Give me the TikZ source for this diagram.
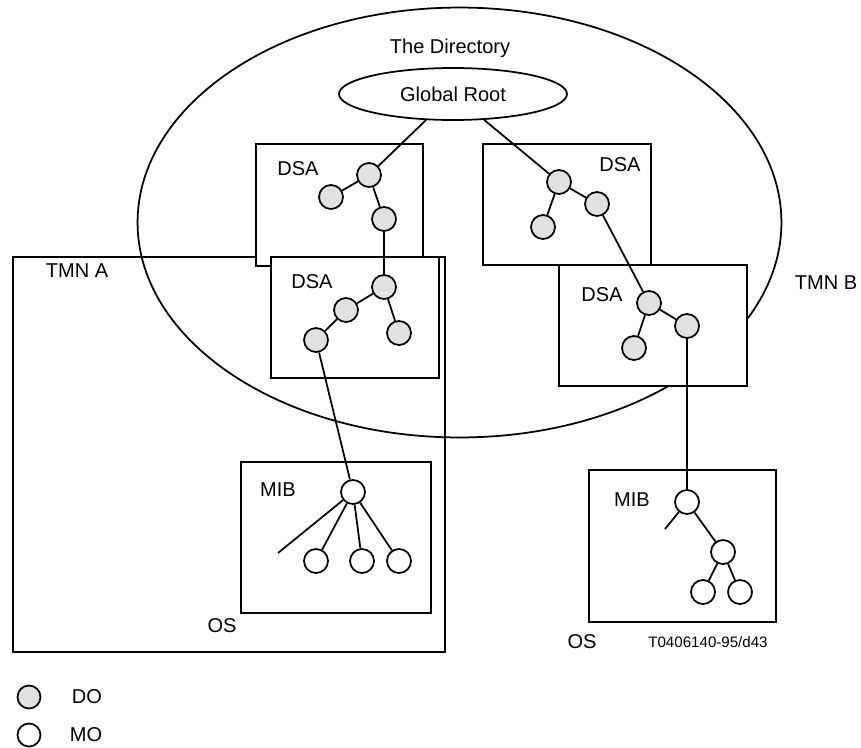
\documentclass[tikz,border=0pt]{standalone}
\usepackage{fontspec}
\setmainfont{Liberation Sans}
\usetikzlibrary{shapes.geometric, positioning}
\definecolor{dogray}{RGB}{225,225,225}

\begin{document}
\begin{tikzpicture}[x=0.02cm, y=-0.02cm, line width=1pt,
    font=\fontsize{11.4}{13}\selectfont,
    box/.style={draw, fill=white},
    dobj/.style={circle, draw, fill=dogray, minimum size=0.48cm, inner sep=0pt},
    mobj/.style={circle, draw, fill=white, minimum size=0.48cm, inner sep=0pt}]
    \useasboundingbox (0,0) rectangle (861,747);

    % the directory and the two TMNs
    \node[ellipse, draw, minimum width=12.88cm, minimum height=8.6cm] (dir) at (459.5,222.5) {};
    \node (dirlbl) at (450,48) {The Directory};
    \node[ellipse, draw, minimum width=4.56cm, minimum height=1.04cm, inner sep=0pt] (root) at (453,94) {Global Root};
    \draw (13,257) rectangle (445,652);
    \node (tmna) at (77,271) {TMN A};
    \node (tmnb) at (826,283) {TMN B};

    % DSA boxes
    \draw[box] (256,144) rectangle (423,266);
    \draw[box] (483,144) rectangle (651,265);
    \draw[box] (271,257) rectangle (439,378);
    \draw[box] (559,265) rectangle (747,386);
    \node (dsa1) at (298,169) {DSA};
    \node (dsa2) at (620,165) {DSA};
    \node (dsa3) at (312,282) {DSA};
    \node (dsa4) at (602,295) {DSA};

    % MIB boxes
    \draw[box] (241,462) rectangle (431,613);
    \draw[box] (589,470) rectangle (776,622);
    \node (mib1) at (278,490) {MIB};
    \node (mib2) at (632,500) {MIB};
    \node (os1) at (222,626) {OS};
    \node (os2) at (582,642) {OS};
    \node[font=\fontsize{8.6}{10}\selectfont] (ref) at (708,642) {T0406140-95/d43};

    % DOs in TMN A
    \node[dobj] (a1) at (369,175) {};
    \node[dobj] (a2) at (331,197) {};
    \node[dobj] (a3) at (384,219) {};
    \node[dobj] (a4) at (384,287) {};
    \node[dobj] (a5) at (346,310) {};
    \node[dobj] (a6) at (399,333) {};
    \node[dobj] (a7) at (316,340) {};
    % DOs in TMN B
    \node[dobj] (b1) at (559,182) {};
    \node[dobj] (b2) at (543,227) {};
    \node[dobj] (b3) at (597,204) {};
    \node[dobj] (b4) at (649,303) {};
    \node[dobj] (b5) at (634,348) {};
    \node[dobj] (b6) at (687,326) {};

    % MOs
    \node[mobj] (ma) at (353,492) {};
    \node[mobj] (ma1) at (316,561) {};
    \node[mobj] (ma2) at (362,561) {};
    \node[mobj] (ma3) at (399,561) {};
    \coordinate (mastub) at (278,553);
    \node[mobj] (mb) at (687,502) {};
    \node[mobj] (mb1) at (723,552) {};
    \node[mobj] (mb2) at (703,592) {};
    \node[mobj] (mb3) at (740,592) {};
    \coordinate (mbstub) at (665,529);

    % links
    \draw (root) -- (a1);
    \draw (a1) -- (a2);
    \draw (a1) -- (a3) -- (a4);
    \draw (a4) -- (a5) -- (a7);
    \draw (a4) -- (a6);
    \draw (a7) -- (ma);
    \draw (ma) -- (mastub);
    \draw (ma) -- (ma1);
    \draw (ma) -- (ma2);
    \draw (ma) -- (ma3);
    \draw (root) -- (b1);
    \draw (b1) -- (b2);
    \draw (b1) -- (b3) -- (b4);
    \draw (b4) -- (b5);
    \draw (b4) -- (b6) -- (mb);
    \draw (mb) -- (mbstub);
    \draw (mb) -- (mb1);
    \draw (mb1) -- (mb2);
    \draw (mb1) -- (mb3);

    % legend
    \node[dobj, minimum size=0.46cm] (keydo) at (29,697) {};
    \node (keydotxt) at (87,697) {DO};
    \node[mobj, minimum size=0.46cm] (keymo) at (29,735) {};
    \node (keymotxt) at (86,735) {MO};
\end{tikzpicture}
\end{document}
